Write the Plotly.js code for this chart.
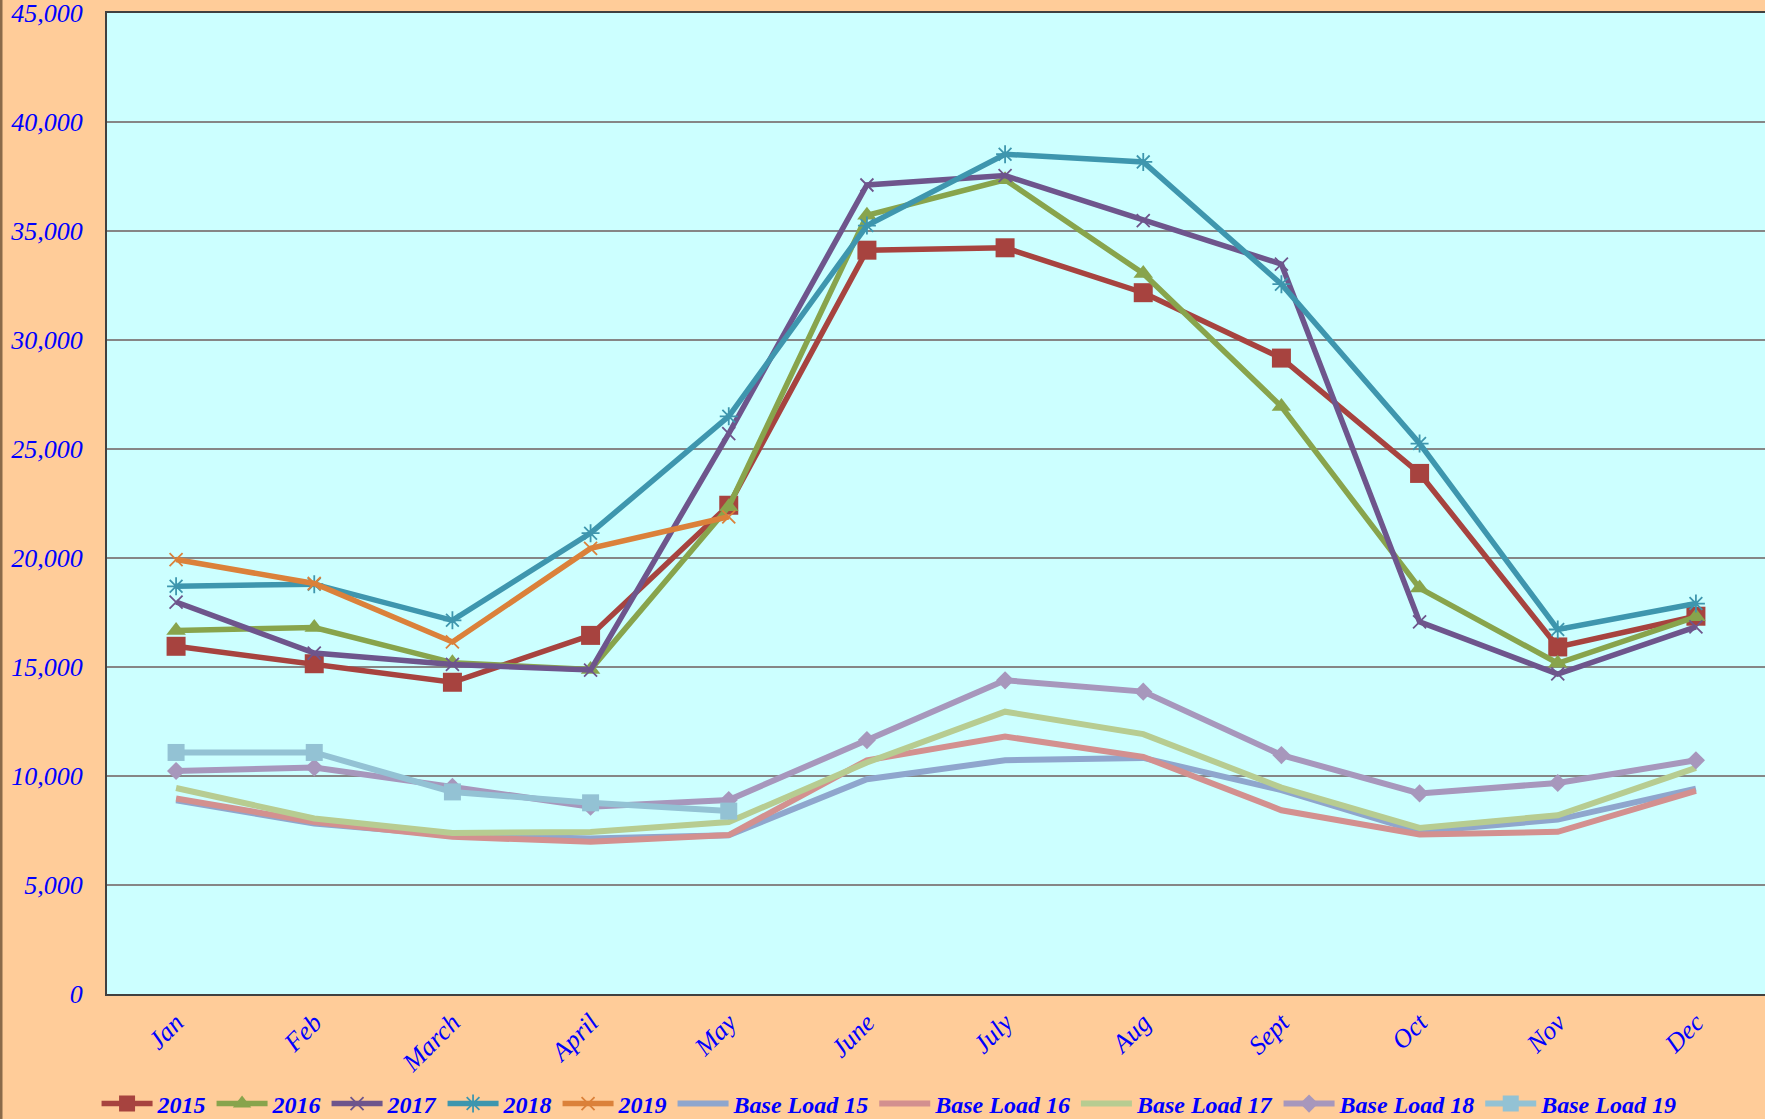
<!DOCTYPE html>
<html>
<head>
<meta charset="utf-8">
<script src="https://cdn.plot.ly/plotly-3.0.1.min.js"></script>
<style>html,body{margin:0;padding:0;background:#FFCC99;}#chart{width:1765px;height:1119px;}</style>
</head>
<body>
<div id="chart"></div>
<script>
const months = ['Jan','Feb','March','April','May','June','July','Aug','Sept','Oct','Nov','Dec'];
const y2015 = [15950,15150,14300,16450,22420,34120,34230,32170,29170,23880,15920,17330];
const y2016 = [16680,16810,15200,14880,22350,35720,37350,33050,26950,18620,15170,17300];
const y2017 = [17980,15640,15120,14860,25710,37110,37540,35480,33480,17070,14680,16840];
const y2018 = [18700,18800,17140,21140,26500,35250,38520,38170,32560,25250,16720,17910];
const y2019 = [19930,18830,16150,20440,21890];
const bl15 = [8890,7820,7280,7130,7280,9850,10720,10830,9350,7440,8000,9420];
const bl16 = [8970,7890,7210,6980,7290,10720,11810,10880,8430,7320,7440,9320];
const bl17 = [9450,8050,7390,7430,7890,10620,12950,11920,9470,7620,8200,10370];
const bl18 = [10230,10390,9500,8590,8900,11650,14390,13870,10960,9200,9680,10720];
const bl19 = [11080,11080,9270,8770,8390];
const seriesNames = ['2015','2016','2017','2018','2019','Base Load 15','Base Load 16','Base Load 17','Base Load 18','Base Load 19'];

function tr(name, ys, color, symbol, size, lw, open) {
  const t = {
    type: 'scatter', name: name,
    x: months.slice(0, ys.length), y: ys,
    mode: symbol ? 'lines+markers' : 'lines',
    line: {color: color, width: lw},
    hoverinfo: 'x+y+name'
  };
  if (symbol) {
    t.marker = {symbol: symbol, size: size, color: color,
      line: open ? {color: color, width: 1.8} : {width: 0}};
  }
  return t;
}

const data = [
  tr(seriesNames[0], y2015, '#A7433F', 'square', 19, 5.5, false),
  tr(seriesNames[1], y2016, '#88A44C', 'triangle-up', 17, 5.5, false),
  tr(seriesNames[2], y2017, '#6E558C', 'x-thin-open', 13, 5.5, true),
  tr(seriesNames[3], y2018, '#3E96AE', 'asterisk-open', 15, 5.5, true),
  tr(seriesNames[4], y2019, '#DB813A', 'x-thin-open', 13, 5.5, true),
  tr(seriesNames[5], bl15, '#8FA6CD', null, 0, 6, false),
  tr(seriesNames[6], bl16, '#D3908F', null, 0, 6, false),
  tr(seriesNames[7], bl17, '#B7CC91', null, 0, 6, false),
  tr(seriesNames[8], bl18, '#A797BC', 'diamond', 14, 6, false),
  tr(seriesNames[9], bl19, '#93C2D4', 'square', 17, 6, false)
];

const plotW = 1765 - 107;
const layout = {
  width: 1765, height: 1119,
  paper_bgcolor: '#FFCC99',
  plot_bgcolor: '#CCFFFF',
  margin: {l: 107, r: 0, t: 13, b: 125, pad: 0},
  showlegend: true,
  legend: {
    orientation: 'h', xref: 'container', yref: 'container',
    x: 0.504, xanchor: 'center', y: 0.0134, yanchor: 'middle',
    font: {family: 'Liberation Serif', size: 24, color: '#0000FF', style: 'italic', weight: 'bold'},
    itemwidth: 51, tracegroupgap: 0, bgcolor: 'rgba(0,0,0,0)'
  },
  xaxis: {
    type: 'category', range: [-0.5, 11.5],
    showgrid: false, zeroline: false,
    showline: true, linecolor: '#404040', linewidth: 2, mirror: true,
    ticks: 'outside', ticklen: 1, tickcolor: 'rgba(0,0,0,0)',
    tickangle: -45,
    tickfont: {family: 'Liberation Serif', size: 26, color: '#0000FF', style: 'italic'}
  },
  yaxis: {
    range: [0, 45000], dtick: 5000, tick0: 0,
    tickformat: ',d',
    ticklabeloverflow: 'allow',
    showgrid: true, gridcolor: '#868686', gridwidth: 2,
    zeroline: false,
    showline: true, linecolor: '#404040', linewidth: 2, mirror: true,
    ticks: 'outside', ticklen: 17, tickcolor: 'rgba(0,0,0,0)',
    tickfont: {family: 'Liberation Serif', size: 26, color: '#0000FF', style: 'italic'}
  },
  shapes: [{
    type: 'line', xref: 'paper', yref: 'paper',
    x0: -106 / plotW, x1: -106 / plotW, y0: -2, y1: 2,
    line: {color: '#8A6A4A', width: 3}
  }]
};

Plotly.newPlot('chart', data, layout, {displayModeBar: false, responsive: false});
</script>
</body>
</html>
